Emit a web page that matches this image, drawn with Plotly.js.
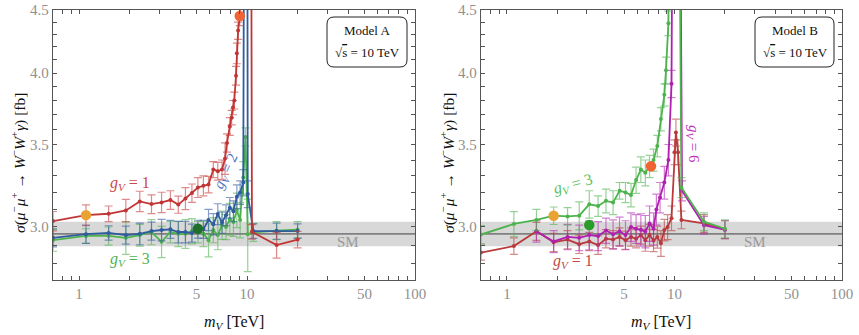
<!DOCTYPE html>
<html>
<head>
<meta charset="utf-8">
<script src="https://cdn.plot.ly/plotly-3.0.1.min.js"></script>
<style>html,body{margin:0;padding:0;background:#fff;}</style>
</head>
<body>
<div id="chart" style="width:859px;height:335px;"></div>
<script>
// ---------------- data ----------------
// Standard-Model prediction and its uncertainty band [fb]
const smSigma = 2.962;
const smUnc = 0.068;
const massRange = [0.7, 100];

// Model A : m_V [TeV], sigma [fb], statistical error [fb]
const mA_g1 = [0.7,1.1,1.5,1.9,2.3,2.7,3.1,3.5,3.9,4.3,4.7,5.1,5.5,5.9,6.3,6.7,7.1,7.4,7.6,7.9,8.1,8.25,8.4,8.6,8.7,8.85,9.05,10.3,10.7,15,20];
const sA_g1 = [3.033,3.067,3.075,3.094,3.147,3.131,3.141,3.155,3.128,3.164,3.196,3.23,3.24,3.248,3.34,3.33,3.34,3.41,3.51,3.62,3.68,3.75,3.80,3.98,4.15,4.33,4.45,30,2.973,2.90,2.93];
const eA_g1 = [0.055,0.06,0.045,0.065,0.06,0.055,0.06,0.055,0.05,0.065,0.055,0.06,0.06,0.05,0.05,0.055,0.06,0.1,0.06,0.06,0.05,0.05,0.06,0.07,0.08,0.07,0.08,0,0.04,0.07,0.045];

const mA_g2 = [0.7,1.1,1.5,1.9,2.3,2.7,3.1,3.5,3.9,4.3,4.7,5.1,5.5,5.9,6.3,6.7,7.1,7.5,7.9,8.3,8.7,9.1,9.5,9.9,10.1,10.9,15,20];
const sA_g2 = [2.94,2.96,2.967,2.955,2.962,2.977,2.983,2.987,2.972,2.972,2.966,2.988,2.987,3.04,3.016,3.073,3.025,3.067,3.11,3.09,3.175,3.2,3.26,25,3.19,2.977,2.977,2.977];
const eA_g2 = [0.05,0.05,0.04,0.05,0.06,0.05,0.06,0.05,0.06,0.06,0.05,0.05,0.05,0.06,0.06,0.06,0.06,0.06,0.06,0.06,0.07,0.07,0.08,0,0.08,0.04,0.045,0.04];

const mA_g3 = [0.7,1.1,1.5,1.9,2.3,2.7,3.1,3.5,3.9,4.3,4.7,5.1,5.5,5.9,6.3,6.7,7.1,7.5,7.9,8.3,8.7,9.1,9.5,9.8,10.1,10.9,15,20];
const sA_g3 = [2.927,2.95,2.95,2.94,2.955,2.972,2.918,2.972,2.962,2.962,2.977,2.972,2.962,2.927,2.983,2.955,3.011,3.0,3.045,3.028,3.096,3.04,3.29,3.55,2.96,2.97,2.98,2.985];
const eA_g3 = [0.06,0.04,0.05,0.09,0.06,0.07,0.085,0.06,0.07,0.08,0.07,0.06,0.07,0.09,0.07,0.08,0.08,0.07,0.09,0.08,0.1,0.1,0.1,0.06,0.2,0.05,0.05,0.045];

// Model B
const mB_g1 = [0.7,1.1,1.5,1.9,2.3,2.7,3.1,3.5,3.9,4.3,4.7,5.1,5.5,5.9,6.3,6.7,7.1,7.5,7.9,8.3,8.7,9.1,9.6,10.0,10.2,10.5,11,15,20];
const sB_g1 = [2.86,2.895,2.976,2.915,2.93,2.905,2.92,2.90,2.935,2.93,2.945,2.927,2.945,2.935,2.955,2.927,2.955,2.925,2.944,2.91,2.983,3.0,3.05,3.45,3.58,3.45,3.04,3.02,2.985];
const eB_g1 = [0.04,0.045,0.05,0.05,0.05,0.05,0.05,0.05,0.05,0.05,0.05,0.05,0.05,0.05,0.05,0.06,0.06,0.06,0.06,0.07,0.06,0.07,0.07,0.08,0.09,0.08,0.05,0.05,0.05];

const mB_g3 = [0.7,1.1,1.5,1.9,2.3,2.7,3.1,3.5,3.9,4.3,4.7,5.1,5.5,5.9,6.3,6.7,7.1,7.5,7.9,8.3,8.7,8.9,9.2,9.9,11,15,20];
const sB_g3 = [2.958,3.017,3.04,3.064,3.06,3.064,3.13,3.12,3.15,3.14,3.21,3.20,3.185,3.275,3.34,3.32,3.36,3.40,3.49,3.67,3.84,4.02,4.39,25,3.23,3.03,2.99];
const eB_g3 = [0.05,0.07,0.06,0.05,0.05,0.08,0.08,0.06,0.07,0.07,0.05,0.06,0.07,0.08,0.08,0.08,0.07,0.07,0.07,0.08,0.08,0.1,0.1,0,0.06,0.05,0.05];

const mB_g6 = [1.5,1.9,2.3,2.7,3.1,3.5,3.9,4.3,4.7,5.1,5.5,5.9,6.3,6.7,7.1,7.5,7.8,8.2,8.7,9.2,9.6,10.2,11.1,15,20];
const sB_g6 = [2.976,2.92,2.945,2.94,2.955,2.95,2.98,2.96,2.976,2.955,3.0,2.99,2.985,2.975,3.02,2.99,3.10,3.17,3.26,3.40,3.92,20,3.21,3.01,2.985];
const eB_g6 = [0.06,0.06,0.07,0.07,0.08,0.08,0.07,0.08,0.08,0.08,0.08,0.08,0.09,0.09,0.1,0.09,0.09,0.09,0.1,0.1,0.1,0,0.06,0.05,0.05];

// benchmark points (low / mid / high mass)
const benchA_m = [1.1, 5.1, 9.05];
const benchA_s = [3.067, 2.99, 4.45];
const benchB_m = [1.9, 3.1, 7.24];
const benchB_s = [3.064, 3.011, 3.36];

// axis ticks
const xMinor = [0.8,0.9,1,2,3,4,5,6,7,8,9,10,20,30,40,50,60,70,80,90,100];
const xLabeled = [1,5,10,50,100];
const yMinor = [2.8,2.9,3.0,3.1,3.2,3.3,3.4,3.5,3.6,3.7,3.8,3.9,4.0,4.1,4.2,4.3,4.4,4.5];
const yLabeled = [3.0,3.5,4.0,4.5];
const yRange = [2.717, 4.5];

// ---------------- drawing ----------------
const W = 859, H = 335;
const PX = v => v / W, PY = v => 1 - v / H;

const C = {
  red:   '#c23535', redErr:   'rgba(200,60,60,0.6)',
  blue:  '#2f5c9e', blueErr:  'rgba(50,90,160,0.6)',
  green: '#4db34d', greenErr: 'rgba(80,180,80,0.6)',
  mag:   '#b020b0', magErr:   'rgba(180,40,180,0.6)',
  redB:  '#b83a3a', redBErr:  'rgba(185,60,60,0.6)'
};

function series(m, s, e, col, ecol, xa, ya) {
  return {
    type: 'scatter', mode: 'lines+markers', x: m, y: s, xaxis: xa, yaxis: ya,
    line: {color: col, width: 1.8}, marker: {color: col, size: 4},
    error_y: {type: 'data', array: e, visible: true, color: ecol, thickness: 1.2, width: 4},
    hoverinfo: 'skip', showlegend: false
  };
}
function band(xa, ya) {
  return {
    type: 'scatter', mode: 'lines', xaxis: xa, yaxis: ya,
    x: [massRange[0], massRange[1], massRange[1], massRange[0], massRange[0]],
    y: [smSigma - smUnc, smSigma - smUnc, smSigma + smUnc, smSigma + smUnc, smSigma - smUnc],
    fill: 'toself', fillcolor: 'rgba(200,200,200,0.7)', line: {width: 0}, hoverinfo: 'skip', showlegend: false
  };
}
function smLine(xa, ya) {
  return {
    type: 'scatter', mode: 'lines', xaxis: xa, yaxis: ya,
    x: massRange, y: [smSigma, smSigma], line: {color: '#808080', width: 1.8}, hoverinfo: 'skip', showlegend: false
  };
}
function bench(m, s, cols, xa, ya) {
  return {
    type: 'scatter', mode: 'markers', x: m, y: s, xaxis: xa, yaxis: ya,
    marker: {color: cols, size: 10.5}, hoverinfo: 'skip', showlegend: false, cliponaxis: false
  };
}

const traces = [
  band('x', 'y'), smLine('x', 'y'),
  series(mA_g3, sA_g3, eA_g3, C.green, C.greenErr, 'x', 'y'),
  series(mA_g2, sA_g2, eA_g2, C.blue, C.blueErr, 'x', 'y'),
  series(mA_g1, sA_g1, eA_g1, C.red, C.redErr, 'x', 'y'),
  bench(benchA_m, benchA_s, ['#e9a234', '#1f6e2c', '#ef6432'], 'x', 'y'),
  band('x2', 'y2'), smLine('x2', 'y2'),
  series(mB_g1, sB_g1, eB_g1, C.redB, C.redBErr, 'x2', 'y2'),
  series(mB_g6, sB_g6, eB_g6, C.mag, C.magErr, 'x2', 'y2'),
  series(mB_g3, sB_g3, eB_g3, C.green, C.greenErr, 'x2', 'y2'),
  bench(benchB_m, benchB_s, ['#e9a234', '#2a9c2a', '#ef6432'], 'x2', 'y2')
];

const serif = "'Liberation Serif', 'Times New Roman', 'DejaVu Serif', serif";
const tickFont = {family: serif, size: 15, color: '#8f8f8f'};
function xAxis(domain, anchor) {
  return {
    type: 'log', domain: domain, anchor: anchor,
    range: [Math.log10(massRange[0]), Math.log10(massRange[1])],
    tickmode: 'array', tickvals: xMinor,
    ticktext: xMinor.map(v => xLabeled.includes(v) ? String(v) : ''),
    ticks: 'inside', ticklen: 4, tickwidth: 1, tickcolor: '#555',
    mirror: 'allticks', showline: true, linecolor: '#555', linewidth: 1.2,
    showgrid: false, zeroline: false, tickfont: tickFont, fixedrange: true
  };
}
function yAxis(anchor) {
  return {
    type: 'log', domain: [PY(280), PY(10)], anchor: anchor,
    range: [Math.log10(yRange[0]), Math.log10(yRange[1])],
    tickmode: 'array', tickvals: yMinor,
    ticktext: yMinor.map(v => yLabeled.some(l => Math.abs(l - v) < 1e-9) ? v.toFixed(1) : ''),
    ticks: 'inside', ticklen: 4, tickwidth: 1, tickcolor: '#555',
    mirror: 'allticks', showline: true, linecolor: '#555', linewidth: 1.2,
    showgrid: false, zeroline: false, tickfont: tickFont, fixedrange: true
  };
}

function roundRect(x0, y0, x1, y1, r) {
  const X = v => PX(v), Y = v => PY(v);
  return `M ${X(x0 + r)} ${Y(y0)} L ${X(x1 - r)} ${Y(y0)} Q ${X(x1)} ${Y(y0)} ${X(x1)} ${Y(y0 + r)} ` +
         `L ${X(x1)} ${Y(y1 - r)} Q ${X(x1)} ${Y(y1)} ${X(x1 - r)} ${Y(y1)} ` +
         `L ${X(x0 + r)} ${Y(y1)} Q ${X(x0)} ${Y(y1)} ${X(x0)} ${Y(y1 - r)} ` +
         `L ${X(x0)} ${Y(y0 + r)} Q ${X(x0)} ${Y(y0)} ${X(x0 + r)} ${Y(y0)} Z`;
}

function label(x, y, text, color, size, angle) {
  return {xref: 'paper', yref: 'paper', x: PX(x), y: PY(y), text: text, showarrow: false,
          xanchor: 'center', yanchor: 'middle', textangle: angle || 0,
          font: {family: serif, size: size, color: color}};
}
const gv = n => `<i>g</i><sub><i>V</i></sub> = ${n}`;
const yTitle = '<i>σ</i>(<i>μ</i><sup>−</sup><i>μ</i><sup>+</sup> → <i>W</i><sup>−</sup><i>W</i><sup>+</sup><i>γ</i>) [fb]';
const xTitle = '<i>m</i><sub><i>V</i></sub> [TeV]';
const rootS = '√<span style="text-decoration:overline">s</span> = 10 TeV';

const annotations = [
  label(18, 163, yTitle, '#111', 15.5, -90),
  label(447, 163, yTitle, '#111', 15.5, -90),
  label(234, 322, xTitle, '#111', 16),
  label(661, 322, xTitle, '#111', 16),
  label(367, 31, 'Model A', '#111', 13),
  label(367, 53, rootS, '#111', 13),
  label(795, 31, 'Model B', '#111', 13),
  label(795, 53, rootS, '#111', 13),
  label(130, 183, gv(1), '#cc4a4a', 16),
  label(130, 259, gv(3), '#52b352', 16),
  label(226, 172, gv(2), '#4a74c0', 15, -65),
  label(573, 184, gv(3), '#5cbf5c', 16, -15),
  label(573, 261, gv(1), '#c04a4a', 16),
  label(693, 144, gv(6), '#c030c0', 15, 90),
  label(348, 242, 'SM', '#9a9a9a', 15),
  label(755, 242, 'SM', '#9a9a9a', 15)
];

const shapes = [
  {type: 'path', xref: 'paper', yref: 'paper', path: roundRect(327, 17, 407, 67, 7), line: {color: '#222', width: 1}},
  {type: 'path', xref: 'paper', yref: 'paper', path: roundRect(755, 17, 834, 67, 7), line: {color: '#222', width: 1}}
];

const layout = {
  width: W, height: H, margin: {l: 0, r: 0, t: 0, b: 0},
  paper_bgcolor: '#fff', plot_bgcolor: '#fff', showlegend: false, hovermode: false,
  font: {family: serif},
  xaxis: xAxis([PX(53), PX(415)], 'y'),
  yaxis: yAxis('x'),
  xaxis2: xAxis([PX(481), PX(842)], 'y2'),
  yaxis2: yAxis('x2'),
  annotations: annotations, shapes: shapes
};

Plotly.newPlot('chart', traces, layout, {displayModeBar: false, staticPlot: true});
</script>
</body>
</html>
